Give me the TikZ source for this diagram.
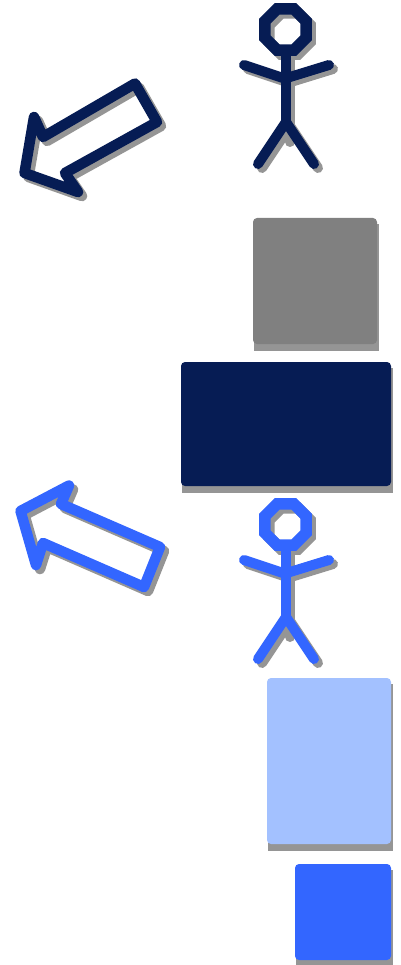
\documentclass[tikz,border=0pt]{standalone}
\usepackage{xcolor}
\usepackage{tikz}
\definecolor{Navy}{HTML}{061C54}
\definecolor{Royal}{HTML}{3366FF}
\definecolor{Sky}{HTML}{A3C1FF}
\definecolor{Slate}{HTML}{808080}
\definecolor{Shade}{HTML}{959595}
\tikzset{
  limb/.style={line width=10pt,line cap=round,line join=round},
  outline/.style={line width=10.5pt,line join=round},
  ring/.style={line width=11.5pt,line join=miter},
  shadowbox/.style={fill=Shade},
  panel/.style={rounded corners=4pt}
}
\begin{document}
\begin{tikzpicture}[x=1pt,y=-1pt]
  \useasboundingbox (0,0) rectangle (400,965);
  % panels, each one over its shadow
  \foreach \ink/\xa/\ya/\xb/\yb in {Slate/253/218/377/344,Navy/181/362/391/486,Sky/267/678/391/844,Royal/295/864/391/960} {
    \draw[shadowbox,draw=none] (\xa+1,\ya+6) rectangle (\xb+2,\yb+7);
    \draw[panel,fill=\ink,draw=none] (\xa,\ya) rectangle (\xb,\yb);
  }
  % actors
  \foreach \ink/\dy in {Navy/0,Royal/495} {
    \begin{scope}[yshift=-\dy pt]
      \begin{scope}[shift={(4,4)}]
        \draw[ring,Shade] (277,8.9)--(294,8.9)--(306.1,21)--(306.1,38)--(294,50.1)--(277,50.1)--(264.9,38)--(264.9,21)--cycle;
        \draw[limb,Shade] (286,55)--(286,138);
        \draw[limb,Shade] (244,65)--(286,79);
        \draw[limb,Shade] (329,65)--(290,77);
        \draw[limb,Shade] (258,164)--(286,122)--(314,164);
      \end{scope}
      \draw[ring,\ink] (277,8.9)--(294,8.9)--(306.1,21)--(306.1,38)--(294,50.1)--(277,50.1)--(264.9,38)--(264.9,21)--cycle;
      \draw[\ink,line width=10pt] (286,55)--(286,122);
      \draw[limb,\ink] (329,65)--(290,77);
      \draw[limb,\ink] (244,65)--(286,79);
      \draw[limb,\ink] (258,164)--(286,122)--(314,164);
    \end{scope}
  }
  % arrows
  \draw[outline,Shade] (139,87.5)--(161,126)--(69,177)--(82,196)--(28.5,177)--(38,121)--(47,141)--cycle;
  \draw[outline,Navy] (135,83.5)--(157,122)--(65,173)--(78,192)--(24.5,173)--(34,117)--(43,137)--cycle;
  \draw[outline,Shade] (164,551)--(148,591)--(47,547)--(40,569)--(24.5,515)--(73,489.5)--(65,508)--cycle;
  \draw[outline,Royal] (160,547)--(144,587)--(43,543)--(36,565)--(20.5,511)--(69,485.5)--(61,504)--cycle;
\end{tikzpicture}
\end{document}
